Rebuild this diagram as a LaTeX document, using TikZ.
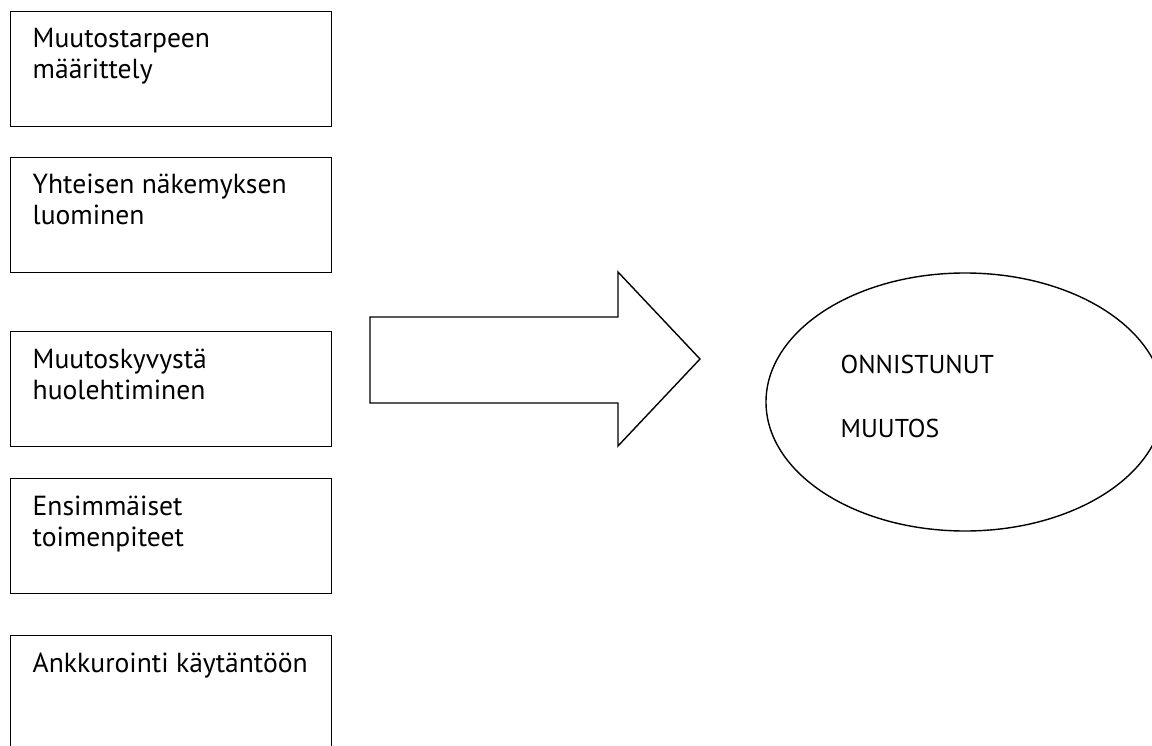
\documentclass[tikz,border=0pt]{standalone}
\usepackage{fontspec}
\setmainfont{PT Sans}
\usetikzlibrary{shapes.geometric}
\begin{document}
\begin{tikzpicture}[x=1pt,y=-1pt,
  line width=1.4pt,
  stepbox/.style={draw=black, rectangle, minimum width=321pt, minimum height=115pt,
    inner sep=0pt, anchor=north west},
  boxtext/.style={anchor=base west, inner sep=0pt,
    font=\fontsize{27.6}{31}\selectfont},
  goal/.style={draw=black, ellipse, minimum width=398pt, minimum height=258pt, inner sep=0pt},
  goaltext/.style={anchor=base west, inner sep=0pt, font=\fontsize{25.8}{30}\selectfont}]
\useasboundingbox (0,0) rectangle (1152,746);
\fill[white] (0,0) rectangle (1152,746);

% the five phase boxes
\node[stepbox] (b1) at (10,11) {};
\node[stepbox] (b2) at (10,157) {};
\node[stepbox] (b3) at (10,331) {};
\node[stepbox] (b4) at (10,478) {};
\node[stepbox] (b5) at (10,635) {};

\node[boxtext] (t1) at ([xshift=22pt,yshift=-37pt]b1.north west)
  {\parbox[t]{300pt}{\baselineskip=31pt Muutostarpeen\\määrittely}};
\node[boxtext] (t2) at ([xshift=22pt,yshift=-37pt]b2.north west)
  {\parbox[t]{300pt}{\baselineskip=31pt Yhteisen näkemyksen\\luominen}};
\node[boxtext] (t3) at ([xshift=22pt,yshift=-37pt]b3.north west)
  {\parbox[t]{300pt}{\baselineskip=31pt Muutoskyvystä\\huolehtiminen}};
\node[boxtext] (t4) at ([xshift=22pt,yshift=-37pt]b4.north west)
  {\parbox[t]{300pt}{\baselineskip=31pt Ensimmäiset\\toimenpiteet}};
\node[boxtext] (t5) at ([xshift=22pt,yshift=-37pt]b5.north west)
  {Ankkurointi käytäntöön};

% block arrow
\draw[line join=miter] (370,317) -- (618,317) -- (618,272) -- (700,359)
  -- (618,446) -- (618,403) -- (370,403) -- cycle;

% outcome ellipse
\node[goal] (g) at (965,402) {};
\node[goaltext] (g1) at (840,373) {ONNISTUNUT};
\node[goaltext] (g2) at (840,437) {MUUTOS};
\end{tikzpicture}
\end{document}
